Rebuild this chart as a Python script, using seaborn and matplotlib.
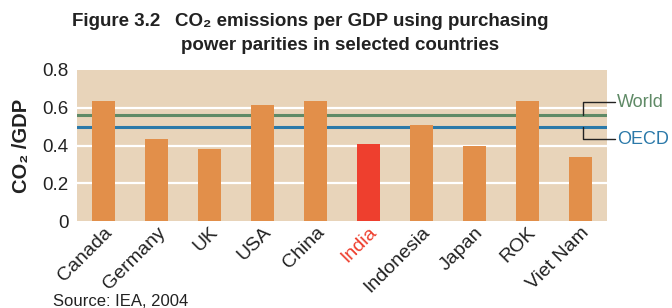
import matplotlib
matplotlib.use("Agg")
import matplotlib.pyplot as plt
import seaborn as sns
import pandas as pd
from matplotlib.lines import Line2D

countries = ["Canada", "Germany", "UK", "USA", "China", "India",
             "Indonesia", "Japan", "ROK", "Viet Nam"]
co2_per_gdp = [0.635, 0.435, 0.38, 0.615, 0.635, 0.41, 0.51, 0.40, 0.635, 0.34]
world_avg = 0.56
oecd_avg = 0.50
yticks = [0, 0.2, 0.4, 0.6, 0.8]
ytick_labels = ["0", "0.2", "0.4", "0.6", "0.8"]

sns.set_theme(style="white")
plt.rcParams["font.family"] = ["Liberation Sans", "DejaVu Sans"]

bar_col = "#E28F4A"
india_col = "#EE3F2E"
bg_col = "#E8D4BA"
world_col = "#5F8A66"
oecd_col = "#2B79A9"
txt = "#222222"

df = pd.DataFrame({"country": countries, "value": co2_per_gdp})
palette = {c: (india_col if c == "India" else bar_col) for c in countries}

fig = plt.figure(figsize=(6.72, 3.08), dpi=100)
ax = fig.add_axes([77/672, 1-221/308, 530/672, 151/308])
ax.set_facecolor(bg_col)
for y in [0.2, 0.4, 0.6]:
    ax.axhline(y, color="white", lw=1.6, zorder=0.5)

sns.barplot(data=df, x="country", y="value", hue="country", palette=palette,
            width=0.44, legend=False, ax=ax, zorder=2, saturation=1,
            linewidth=0, edgecolor="none")

ax.axhline(world_avg, color=world_col, lw=2.2, zorder=1)
ax.axhline(oecd_avg, color=oecd_col, lw=2.2, zorder=1)

ax.set_ylim(0, 0.8)
ax.set_xlim(-0.5, len(countries) - 0.5)
ax.set_yticks(yticks)
ax.set_yticklabels(ytick_labels, fontsize=13.5, color=txt)
for s in ax.spines.values():
    s.set_visible(False)
ax.tick_params(axis="y", length=0, pad=6)
ax.tick_params(axis="x", length=0, pad=2)
ax.set_xlabel("")
ax.set_ylabel("CO₂ /GDP", fontsize=14.5, fontweight="bold", color=txt, labelpad=8)

ax.set_xticks(range(len(countries)))
ax.set_xticklabels(countries, rotation=45, ha="right", rotation_mode="anchor",
                   fontsize=14, color=txt)
for lbl in ax.get_xticklabels():
    if lbl.get_text() == "India":
        lbl.set_color(india_col)

xb = 583/672
xe = 615/672
fy_world = 1 - 102/308
fy_oecd = 1 - 139/308
def data_to_fig_y(v):
    d = ax.transData.transform((0, v))
    return fig.transFigure.inverted().transform(d)[1]
fig.add_artist(Line2D([xb, xb, xe], [data_to_fig_y(world_avg), fy_world, fy_world],
                      color=txt, lw=1))
fig.add_artist(Line2D([xb, xb, xe], [data_to_fig_y(oecd_avg), fy_oecd, fy_oecd],
                      color=txt, lw=1))
fig.text(617/672, fy_world, "World", color=world_col, fontsize=13, va="center", ha="left")
fig.text(617/672, fy_oecd, "OECD", color=oecd_col, fontsize=13, va="center", ha="left")

fig.text(72/672, 1 - 22/308, "Figure 3.2", fontsize=13.5, fontweight="bold",
         color=txt, va="center", ha="left")
fig.text(175/672, 1 - 22/308, "CO₂ emissions per GDP using purchasing",
         fontsize=13.5, fontweight="bold", color=txt, va="center", ha="left")
fig.text(181/672, 1 - 45/308, "power parities in selected countries",
         fontsize=13.5, fontweight="bold", color=txt, va="center", ha="left")

fig.text(53/672, 1 - 302/308, "Source: IEA, 2004", fontsize=12, color=txt,
         va="center", ha="left")

fig.savefig("out.png", dpi=100, facecolor="white")
